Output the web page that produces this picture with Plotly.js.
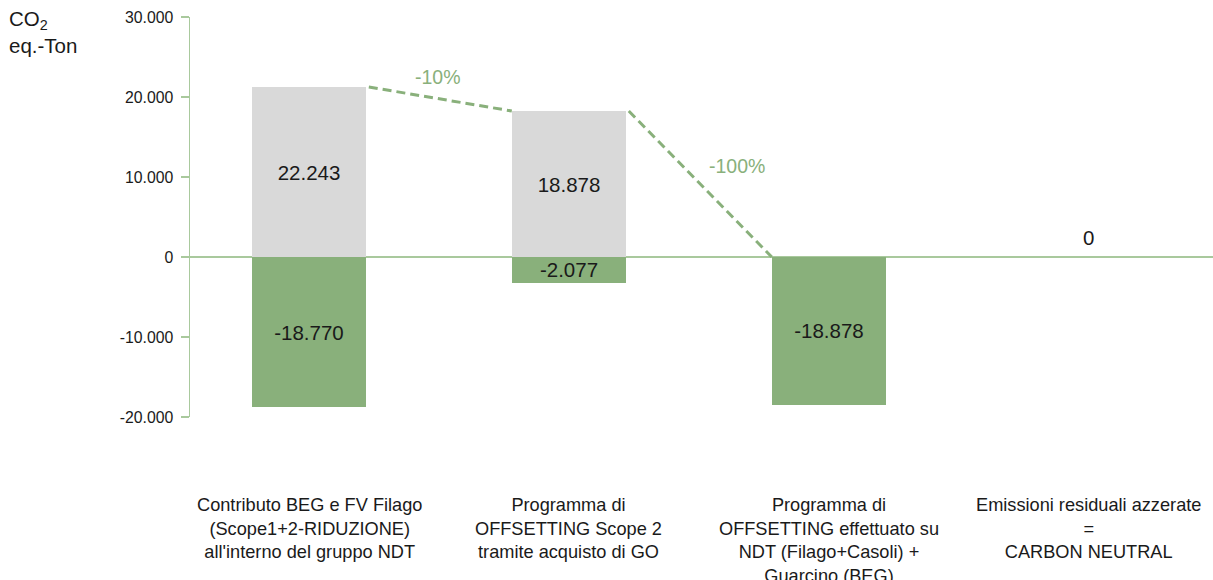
<!DOCTYPE html>
<html>
<head>
<meta charset="utf-8">
<script src="https://cdn.plot.ly/plotly-3.0.1.min.js"></script>
<style>html,body{margin:0;padding:0;background:#fff;}#chart{width:1213px;height:580px;}</style>
</head>
<body>
<div id="chart"></div>
<script>
// ---- data ----
const categories = [
  "Contributo BEG e FV Filago<br>(Scope1+2-RIDUZIONE)<br>all'interno del gruppo NDT",
  "Programma di<br>OFFSETTING Scope 2<br>tramite acquisto di GO",
  "Programma di<br>OFFSETTING effettuato su<br>NDT (Filago+Casoli) +<br>Guarcino (BEG)",
  "Emissioni residuali azzerate<br>=<br>CARBON NEUTRAL"
];
const emissions = [21250, 18250, null, 0];          // grey bars (drawn height)
const emissionLabels = ["22.243", "18.878", "", "0"];
const offsets = [-18750, -3200, -18450, null];      // green bars (drawn height)
const offsetLabels = ["-18.770", "-2.077", "-18.878", ""];
const changeLabels = ["-10%", "-100%"];
const yTickVals = [-20000, -10000, 0, 10000, 20000, 30000];
const yTickText = ["-20.000", "-10.000", "0", "10.000", "20.000", "30.000"];
const yTitle = "CO<sub>2</sub><br>eq.-Ton";

// ---- styling ----
const GREY = "#d9d9d9";
const GREEN = "#89b07b";
const AXISGREEN = "#a9c99d";
const FONT = "Liberation Sans, Arial, sans-serif";
const TXT = "#1a1a1a";
const barWidth = 0.44;
const xIdx = categories.map((c, i) => i);

const greyTrace = {
  type: "bar", x: xIdx, y: emissions, width: barWidth,
  marker: {color: GREY},
  text: emissionLabels.map((t, i) => emissions[i] ? t : ""),
  textposition: "inside", insidetextanchor: "middle",
  textfont: {family: FONT, size: 20.5, color: TXT},
  constraintext: "none",
  hoverinfo: "skip", showlegend: false
};
const greenTrace = {
  type: "bar", x: xIdx, y: offsets, width: barWidth,
  marker: {color: GREEN},
  text: offsetLabels, textposition: "inside", insidetextanchor: "middle",
  textfont: {family: FONT, size: 20.5, color: TXT},
  constraintext: "none",
  hoverinfo: "skip", showlegend: false
};

// dashed connectors derived from bar tops
const half = barWidth / 2;
const seg1 = {x: [0 + half + 0.01, 1 - half], y: [emissions[0], emissions[1]]};
const seg2 = {x: [1 + half + 0.01, 2 - half], y: [emissions[1], 0]};
function dashTrace(s) {
  return {type: "scatter", mode: "lines", x: s.x, y: s.y,
    line: {color: GREEN, width: 3, dash: "9px,5px"},
    hoverinfo: "skip", showlegend: false, cliponaxis: false};
}

const annotations = categories.map((c, i) => ({
  x: i, xref: "x", y: -0.19, yref: "paper", yanchor: "top", xanchor: "center",
  text: c, showarrow: false, align: "center",
  font: {family: FONT, size: 18.2, color: TXT}
}));
[seg1, seg2].forEach((s, i) => {
  annotations.push({
    x: (s.x[0] + s.x[1]) / 2, y: (s.y[0] + s.y[1]) / 2, xref: "x", yref: "y",
    xshift: i === 0 ? -2 : 37, yshift: i === 0 ? 22 : 18,
    text: changeLabels[i], showarrow: false,
    font: {family: FONT, size: 19.5, color: GREEN}
  });
});
// label for the zero-height residual bar
emissions.forEach((v, i) => {
  if (v === 0) {
    annotations.push({
      x: i, y: v, xref: "x", yref: "y", yanchor: "bottom", yshift: 6,
      text: emissionLabels[i], showarrow: false,
      font: {family: FONT, size: 20.5, color: TXT}
    });
  }
});
// axis title, horizontal at top-left
annotations.push({
  x: -0.179, xref: "paper", xanchor: "left",
  y: 1.0, yref: "paper", yanchor: "top", yshift: 12,
  text: yTitle, showarrow: false, align: "left",
  font: {family: FONT, size: 20.5, color: TXT}
});

const layout = {
  width: 1213, height: 580,
  margin: {l: 190, r: 0, t: 17, b: 163},
  paper_bgcolor: "#fff", plot_bgcolor: "#fff",
  barmode: "relative", bargap: 0,
  font: {family: FONT, color: TXT},
  xaxis: {
    type: "linear", range: [-0.4577, 3.477],
    showticklabels: false, showgrid: false, zeroline: false, showline: false, ticks: ""
  },
  yaxis: {
    range: [-20000, 30000],
    tickvals: yTickVals, ticktext: yTickText,
    tickfont: {family: FONT, size: 15.8, color: TXT},
    ticklabelstandoff: 4,
    showgrid: false,
    showline: true, linecolor: AXISGREEN, linewidth: 1.5,
    ticks: "outside", ticklen: 8, tickwidth: 1.5, tickcolor: AXISGREEN,
    zeroline: true, zerolinecolor: AXISGREEN, zerolinewidth: 1.5
  },
  annotations: annotations
};

Plotly.newPlot("chart", [greyTrace, greenTrace, dashTrace(seg1), dashTrace(seg2)], layout,
  {staticPlot: true, displayModeBar: false});
</script>
</body>
</html>
